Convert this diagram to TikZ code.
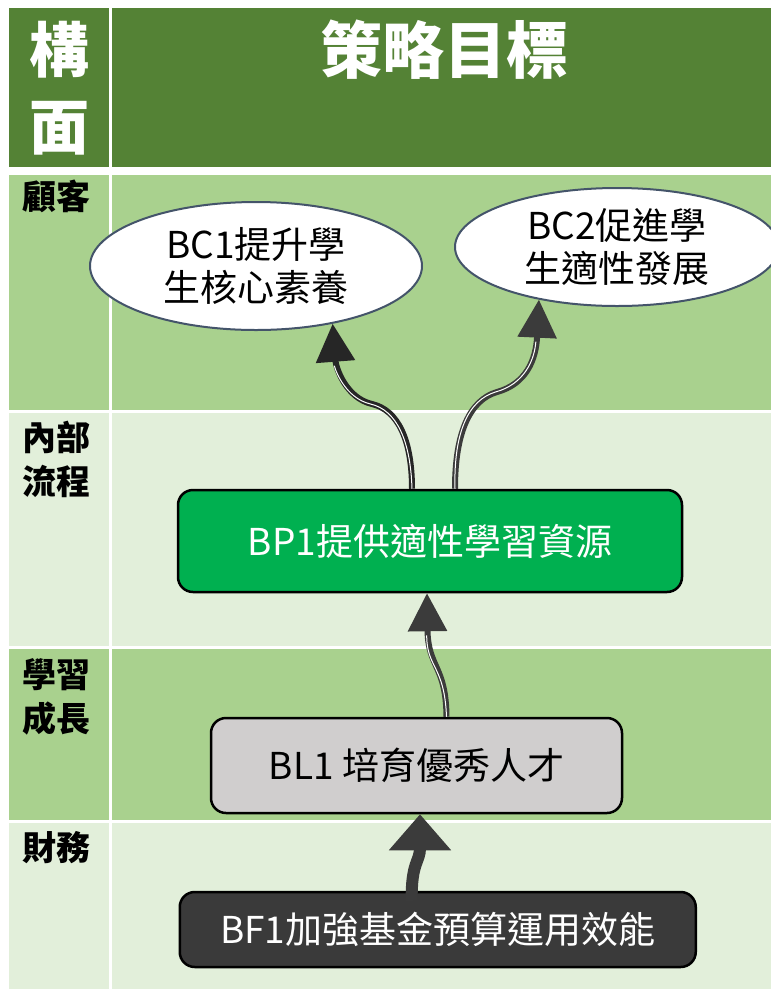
\documentclass[tikz,border=0pt]{standalone}
\usepackage{fontspec}
\setmainfont{Noto Sans CJK TC}
\usetikzlibrary{shapes.geometric,arrows.meta,calc}
\definecolor{hdr}{HTML}{548235}
\definecolor{rowA}{HTML}{A9D18E}
\definecolor{rowB}{HTML}{E2EFDA}
\definecolor{bpgreen}{HTML}{00B050}
\definecolor{blgray}{HTML}{D0CECE}
\definecolor{bfdark}{HTML}{3A3A3A}
\definecolor{ellborder}{HTML}{44546A}
\definecolor{arrA}{HTML}{262626}
\definecolor{arrB}{HTML}{3B3B3B}
\begin{document}
\begin{tikzpicture}[x=1pt,y=-1pt,
  hdrtext/.style={text=white,font=\fontsize{60}{77}\selectfont\bfseries,align=center,inner sep=0},
  rowlabel/.style={anchor=north west,inner sep=0,align=left,font=\fontsize{34}{44}\selectfont\bfseries},
  goalbox/.style={draw=black,line width=2.5pt,rounded corners=15pt,inner sep=0,font=\fontsize{37}{43}\selectfont},
  goalell/.style={ellipse,draw=ellborder,line width=2pt,fill=white,inner sep=0,align=center,font=\fontsize{37}{43}\selectfont},
  linkarrow/.style={line width=6pt,-{Triangle[width=38pt,length=38pt]}},
  linkstripe/.style={draw=white,line width=1pt,shorten >=42pt,xshift=-1.5pt}
]
\useasboundingbox (0,0) rectangle (771,989);
\fill[white] (0,0) rectangle (771,989);
% table background
\fill[hdr] (9,8) rectangle (109,167);
\fill[hdr] (112,8) rectangle (771,167);
\fill[rowA] (9,175) rectangle (109,410);
\fill[rowA] (112,175) rectangle (771,410);
\fill[rowB] (9,413) rectangle (109,646);
\fill[rowB] (112,413) rectangle (771,646);
\fill[rowA] (9,649) rectangle (109,820);
\fill[rowA] (112,649) rectangle (771,820);
\fill[rowB] (9,823) rectangle (109,989);
\fill[rowB] (112,823) rectangle (771,989);
% header texts
\node[hdrtext] (hface) at (59,88) {構\\面};
\node[hdrtext,font=\fontsize{62}{77}\selectfont\bfseries] (hgoal) at (444,50) {策略目標};
% row labels
\node[rowlabel] (lcust) at (22,180) {顧客};
\node[rowlabel] (lproc) at (22,421) {內部\\流程};
\node[rowlabel] (llearn) at (22,658) {學習\\成長};
\node[rowlabel] (lfin) at (22,831) {財務};
% goal nodes
\node[goalell,minimum width=332pt,minimum height=128pt] (bc1) at (256,266) {BC1提升學\\生核心素養};
\node[goalell,minimum width=324pt,minimum height=118pt] (bc2) at (617,247) {BC2促進學\\生適性發展};
\node[goalbox,fill=bpgreen,text=white,minimum width=504pt,minimum height=102pt] (bp1) at (430,541) {BP1提供適性學習資源};
\node[goalbox,fill=blgray,text=black,minimum width=411pt,minimum height=95pt] (bl1) at (416.5,765.5) {BL1 培育優秀人才};
\node[goalbox,fill=bfdark,text=white,minimum width=516pt,minimum height=75pt] (bf1) at (437.75,929.5) {BF1加強基金預算運用效能};
% connectors
\draw[linkarrow,draw=arrA] ($(bp1.north)+(-18,0)$) .. controls (412,440) and (398,410) .. (372,404) .. controls (346,398) and (336,368) .. (bc1.-37.6);
\draw[linkstripe] ($(bp1.north)+(-18,0)$) .. controls (412,440) and (398,410) .. (372,404) .. controls (346,398) and (336,368) .. (bc1.-37.6);
\draw[linkarrow,draw=arrB] ($(bp1.north)+(25,0)$) .. controls (455,432) and (470,400) .. (497,392) .. controls (526,384) and (536,360) .. (bc2.-146);
\draw[linkstripe] ($(bp1.north)+(25,0)$) .. controls (455,432) and (470,400) .. (497,392) .. controls (526,384) and (536,360) .. (bc2.-146);
\draw[linkarrow,draw=arrB] ($(bl1.north)+(30,0)$) .. controls (446,665) and (428,668) .. ($(bp1.south)+(-3,0)$);
\draw[linkstripe] ($(bl1.north)+(30,0)$) .. controls (446,665) and (428,668) .. ($(bp1.south)+(-3,0)$);
\draw[line width=12pt,draw=arrB,-{Triangle[width=60pt,length=36pt]}] ($(bf1.north)+(-26,10)$) .. controls (411,862) and (420,862) .. ($(bl1.south)+(3.5,0)$);
\end{tikzpicture}
\end{document}
